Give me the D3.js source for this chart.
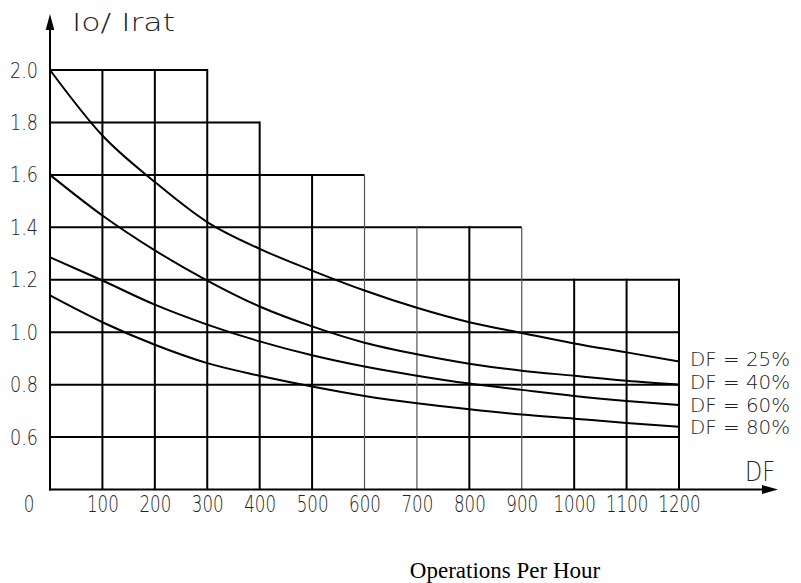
<!DOCTYPE html>
<html>
<head>
<meta charset="utf-8">
<script src="https://cdn.jsdelivr.net/npm/d3@7"></script>
<style>
  html, body { margin: 0; padding: 0; background: #fff; }
  svg { display: block; }
  .iso { font-family: "DejaVu Sans ExtraLight", "DejaVu Sans Light", "DejaVu Sans Condensed", "DejaVu Sans", sans-serif; font-weight: 200; fill: #222; }
</style>
</head>
<body>
<svg id="chart" width="801" height="583"></svg>
<script>
// ---- data ----
const opsPerHour = [0, 100, 200, 300, 400, 500, 600, 700, 800, 900, 1000, 1100, 1200];
const df25 = [2.0, 1.75, 1.573, 1.42, 1.318, 1.235, 1.159, 1.093, 1.038, 0.997, 0.957, 0.923, 0.888];
const df40 = [1.6, 1.445, 1.312, 1.197, 1.098, 1.022, 0.96, 0.916, 0.88, 0.853, 0.834, 0.815, 0.80];
const df60 = [1.286, 1.197, 1.105, 1.029, 0.965, 0.912, 0.869, 0.834, 0.804, 0.78, 0.757, 0.738, 0.722];
const df80 = [1.14, 1.038, 0.952, 0.882, 0.834, 0.793, 0.757, 0.729, 0.706, 0.686, 0.67, 0.654, 0.639];
const seriesNames = ["DF = 25%", "DF = 40%", "DF = 60%", "DF = 80%"];
const yTicks = [0.6, 0.8, 1.0, 1.2, 1.4, 1.6, 1.8, 2.0];
const xTicks = [100, 200, 300, 400, 500, 600, 700, 800, 900, 1000, 1100, 1200];
// stepped grid: horizontal row value -> right end ; vertical column -> top value
const gridRowValues = [2.0, 1.8, 1.6, 1.4, 1.2, 1.0, 0.8, 0.6];
const gridRowEnds   = [300, 400, 600, 900, 1200, 1200, 1200, 1200];
const gridColTops   = [2.0, 2.0, 2.0, 1.8, 1.6, 1.6, 1.4, 1.4, 1.4, 1.2, 1.2, 1.2];
const thinCols = [600, 700, 900];

// ---- scales ----
const x = d3.scaleLinear().domain([0, 1200]).range([50, 679]);
const y = d3.scaleLinear().domain([0.4, 2.0]).range([489.5, 70]);

const svg = d3.select("#chart");

// grid
const grid = svg.append("g");
gridRowValues.forEach((v, i) => {
  grid.append("line")
    .attr("x1", x(0)).attr("x2", x(gridRowEnds[i]))
    .attr("y1", y(v)).attr("y2", y(v))
    .attr("stroke", "#000").attr("stroke-width", 2);
});
xTicks.forEach((t, i) => {
  const thin = thinCols.includes(t);
  grid.append("line")
    .attr("x1", x(t)).attr("x2", x(t))
    .attr("y1", y(0.4)).attr("y2", y(gridColTops[i]) - (thin ? 0 : 1))
    .attr("stroke", thin ? "#555" : "#000")
    .attr("stroke-width", thin ? 1.2 : 2);
});

// curves
const allSeries = [df25, df40, df60, df80];
const line = d3.line()
  .x((d, i) => x(opsPerHour[i]))
  .y(d => y(d))
  .curve(d3.curveMonotoneX);
svg.append("g").selectAll("path")
  .data(allSeries)
  .join("path")
  .attr("d", d => line(d))
  .attr("fill", "none")
  .attr("stroke", "#000")
  .attr("stroke-width", 2);

// axes lines with arrows
svg.append("line")
  .attr("x1", x(0)).attr("x2", x(0))
  .attr("y1", y(0.4) + 1).attr("y2", 28)
  .attr("stroke", "#000").attr("stroke-width", 2);
svg.append("path")
  .attr("d", "M45.7,30 L50,14 L54.3,30 Z")
  .attr("fill", "#000");
svg.append("line")
  .attr("x1", x(0) - 1).attr("x2", 764)
  .attr("y1", y(0.4)).attr("y2", y(0.4))
  .attr("stroke", "#000").attr("stroke-width", 2);
svg.append("path")
  .attr("d", `M762,${y(0.4) - 4.5} L778,${y(0.4)} L762,${y(0.4) + 4.5} Z`)
  .attr("fill", "#000");

// x axis tick labels (narrowed glyphs)
const xAxis = d3.axisBottom(x).tickValues(xTicks).tickSize(0).tickFormat(d3.format("d"));
const gx = svg.append("g").attr("transform", `translate(0,${y(0.4)})`).call(xAxis);
gx.select(".domain").remove();
gx.selectAll("text")
  .attr("class", "iso")
  .attr("x", 0)
  .attr("y", 23).attr("dy", null)
  .attr("font-size", 23)
  .attr("transform", "scale(0.725,1)")
  .attr("fill", "#222");

// y axis tick labels
const yAxis = d3.axisLeft(y).tickValues(yTicks).tickSize(0).tickFormat(d3.format(".1f"));
const gy = svg.append("g").attr("transform", `translate(${x(0)},0)`).call(yAxis);
gy.select(".domain").remove();
gy.selectAll("text")
  .attr("class", "iso")
  .attr("x", -12 / 0.8)
  .attr("font-size", 22)
  .attr("transform", "scale(0.8,1)")
  .attr("fill", "#222");

// origin "0"
svg.append("text").attr("class", "iso")
  .attr("x", 29 / 0.725).attr("y", 512)
  .attr("text-anchor", "middle")
  .attr("font-size", 23)
  .attr("transform", "scale(0.725,1)")
  .text("0");

// axis titles
svg.append("text").attr("class", "iso")
  .attr("x", 72).attr("y", 31)
  .attr("font-size", 24)
  .attr("textLength", 103).attr("lengthAdjust", "spacingAndGlyphs")
  .text("Io/ Irat");
svg.append("text").attr("class", "iso")
  .attr("x", 745).attr("y", 481)
  .attr("font-size", 27)
  .attr("textLength", 30).attr("lengthAdjust", "spacingAndGlyphs")
  .text("DF");

// series labels
svg.append("g").selectAll("text")
  .data(seriesNames)
  .join("text")
  .attr("class", "iso")
  .attr("x", 690)
  .attr("y", (d, i) => 366 + i * 22.8)
  .attr("font-size", 19.5)
  .attr("textLength", 100).attr("lengthAdjust", "spacingAndGlyphs")
  .text(d => d);

// bottom caption
svg.append("text")
  .attr("x", 505).attr("y", 578)
  .attr("text-anchor", "middle")
  .attr("font-family", "'Liberation Serif', 'Times New Roman', serif")
  .attr("font-size", 23)
  .attr("fill", "#000")
  .text("Operations Per Hour");
</script>
</body>
</html>
